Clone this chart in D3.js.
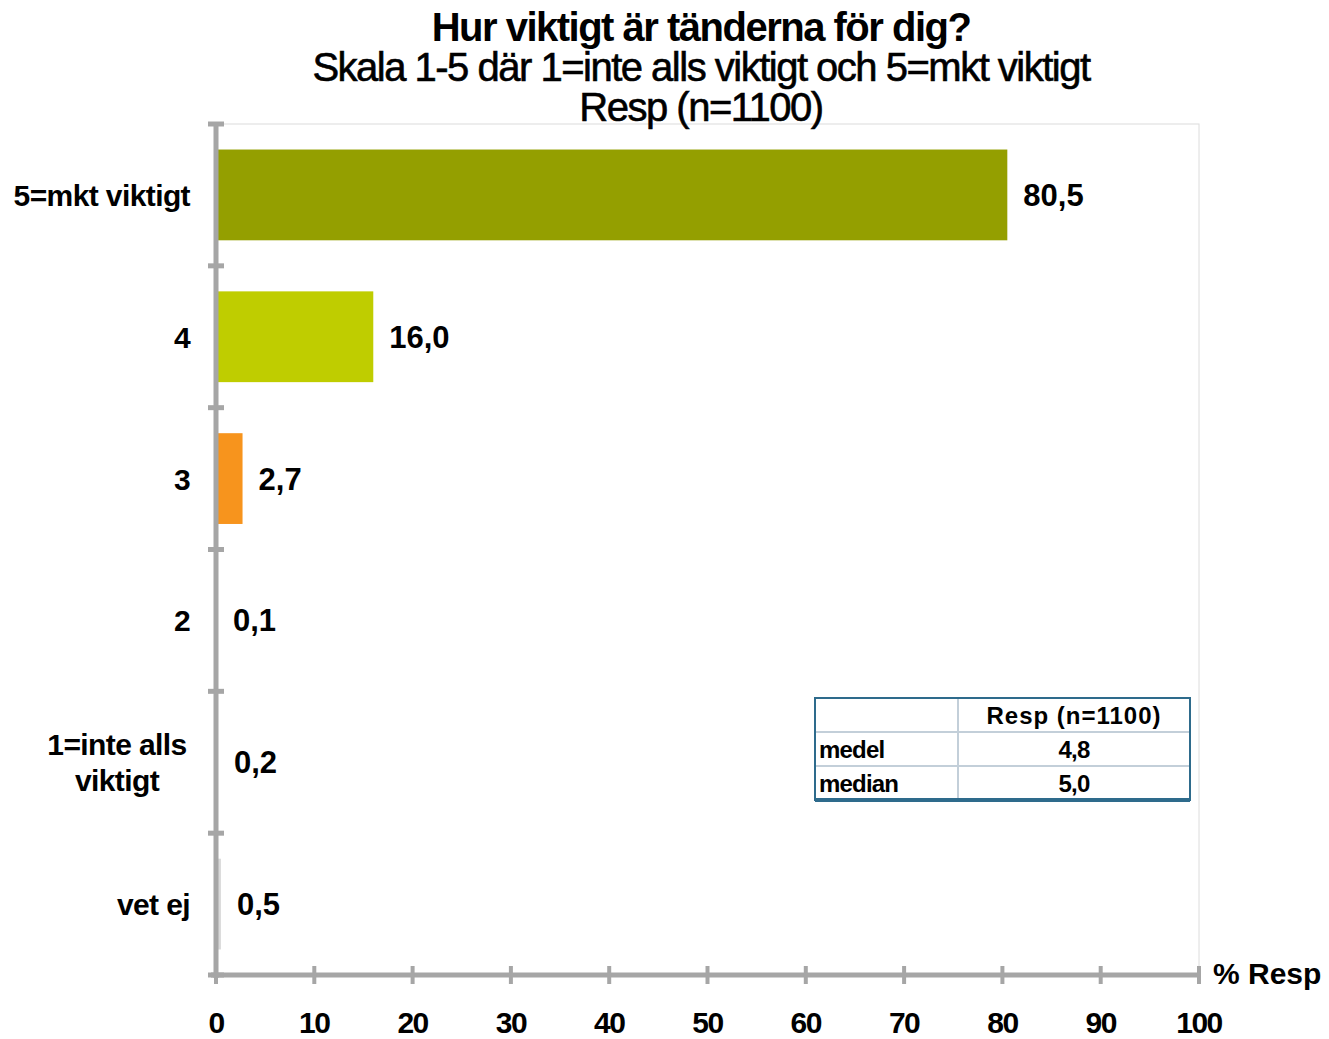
<!DOCTYPE html>
<html>
<head>
<meta charset="utf-8">
<script src="https://cdn.jsdelivr.net/npm/d3@7"></script>
<style>
  body { margin: 0; background: #fff; }
  text { font-family: "Liberation Sans", Arial, sans-serif; fill: #000; }
</style>
</head>
<body>
<script>
// data
var categories = ["5=mkt viktigt", "4", "3", "2", "1=inte alls viktigt", "vet ej"];
var values = [80.5, 16.0, 2.7, 0.1, 0.2, 0.5];
var barColors = ["#949f00", "#bfcd00", "#f7941d", "#e2231a", "#a3161a", "#d9d9d9"];
var xTicks = [0, 10, 20, 30, 40, 50, 60, 70, 80, 90, 100];
var titleLines = ["Hur viktigt är tänderna för dig?", "Skala 1-5 där 1=inte alls viktigt och 5=mkt viktigt", "Resp (n=1100)"];
var tableHeader = ["", "Resp (n=1100)"];
var tableRows = [["medel", "4,8"], ["median", "5,0"]];

var width = 1329, height = 1039;
var plotLeft = 216, plotRight = 1199, plotTop = 124, plotBottom = 975;
var axisColor = "#a6a6a6";

var svg = d3.select("body").append("svg")
  .attr("width", width)
  .attr("height", height);

var x = d3.scaleLinear().domain([0, 100]).range([plotLeft, plotRight]);
var y = d3.scaleBand().domain(categories).range([plotTop, plotBottom]).paddingInner(0.36).paddingOuter(0.18);

var fmt = function(v) { return d3.format(".1f")(v).replace(".", ","); };

// plot area border
svg.append("rect")
  .attr("x", plotLeft).attr("y", plotTop)
  .attr("width", plotRight - plotLeft).attr("height", plotBottom - plotTop)
  .style("fill", "none").style("stroke", "#dcdcdc").style("stroke-width", 1);

// title
svg.selectAll("text.title")
  .data(titleLines)
  .enter().append("text")
  .attr("class", "title")
  .attr("x", 701)
  .attr("y", function(d, i) { return 41 + i * 40; })
  .attr("text-anchor", "middle")
  .style("font-size", "40px")
  .style("font-weight", function(d, i) { return i == 0 ? "bold" : "normal"; })
  .style("stroke", "#000")
  .style("stroke-width", function(d, i) { return i == 0 ? 0 : 0.6; })
  .style("letter-spacing", "-1.5px")
  .text(function(d) { return d; });

// bars
svg.selectAll("rect.bar")
  .data(values)
  .enter().append("rect")
  .attr("class", "bar")
  .attr("x", x(0))
  .attr("y", function(d, i) { return y(categories[i]); })
  .attr("width", function(d) { return x(d) - x(0); })
  .attr("height", y.bandwidth())
  .style("fill", function(d, i) { return barColors[i]; });

// value labels
svg.selectAll("text.val")
  .data(values)
  .enter().append("text")
  .attr("class", "val")
  .attr("x", function(d) { return x(d) + 16; })
  .attr("y", function(d, i) { return y(categories[i]) + y.bandwidth() / 2 + 11; })
  .style("font-size", "31px")
  .style("font-weight", "bold")
  .style("letter-spacing", "0px")
  .text(function(d) { return fmt(d); });

// y axis
var yAxisG = svg.append("g");
yAxisG.append("line")
  .attr("x1", plotLeft).attr("x2", plotLeft)
  .attr("y1", plotTop).attr("y2", plotBottom + 3)
  .style("stroke", axisColor).style("stroke-width", 5);
var yTickPos = d3.range(categories.length + 1).map(function(i) { return plotTop + i * (plotBottom - plotTop) / categories.length; });
yAxisG.selectAll("line.yt")
  .data(yTickPos)
  .enter().append("line")
  .attr("class", "yt")
  .attr("x1", plotLeft - 8).attr("x2", plotLeft + 8)
  .attr("y1", function(d) { return d; }).attr("y2", function(d) { return d; })
  .style("stroke", axisColor).style("stroke-width", 5);

// category labels
svg.selectAll("text.cat")
  .data(categories)
  .enter().append("text")
  .attr("class", "cat")
  .attr("text-anchor", "middle")
  .style("font-size", "30px")
  .style("font-weight", "bold")
  .style("letter-spacing", "-0.6px")
  .each(function(d) {
    var t = d3.select(this);
    var cy = y(d) + y.bandwidth() / 2;
    if (d == "1=inte alls viktigt") {
      t.attr("x", 117);
      t.append("tspan").attr("x", 117).attr("y", cy - 7).text("1=inte alls");
      t.append("tspan").attr("x", 117).attr("y", cy + 29).text("viktigt");
    } else {
      t.attr("text-anchor", "end").attr("x", 190).attr("y", cy + 11).text(d);
    }
  });

// x axis
var xAxisG = svg.append("g");
xAxisG.append("line")
  .attr("x1", plotLeft - 5).attr("x2", plotRight + 2)
  .attr("y1", plotBottom).attr("y2", plotBottom)
  .style("stroke", axisColor).style("stroke-width", 5);
xAxisG.selectAll("line.xt")
  .data(xTicks)
  .enter().append("line")
  .attr("class", "xt")
  .attr("x1", function(d) { return x(d); }).attr("x2", function(d) { return x(d); })
  .attr("y1", plotBottom - 9).attr("y2", plotBottom + 9)
  .style("stroke", axisColor).style("stroke-width", 4);
xAxisG.selectAll("text.xl")
  .data(xTicks)
  .enter().append("text")
  .attr("class", "xl")
  .attr("x", function(d) { return x(d); })
  .attr("y", 1033)
  .attr("text-anchor", "middle")
  .style("font-size", "30px")
  .style("font-weight", "bold")
  .style("letter-spacing", "-1.5px")
  .text(function(d) { return d; });

svg.append("text")
  .attr("x", 1213).attr("y", 984)
  .style("font-size", "30px")
  .style("font-weight", "bold")
  .style("letter-spacing", "0px")
  .text("% Resp");

// stats table
var tx = 815, ty = 698, colW = [143, 232], rowH = 34;
var tbl = svg.append("g");
var allRows = [tableHeader].concat(tableRows);
allRows.forEach(function(row, r) {
  row.forEach(function(cell, c) {
    var cx = tx + (c == 0 ? 0 : colW[0]);
    tbl.append("rect")
      .attr("x", cx).attr("y", ty + r * rowH)
      .attr("width", colW[c]).attr("height", rowH)
      .style("fill", "#fff").style("stroke", "#c3cfd9").style("stroke-width", 2);
    tbl.append("text")
      .attr("x", c == 0 ? cx + 4 : cx + colW[c] / 2)
      .attr("y", ty + r * rowH + 26)
      .attr("text-anchor", c == 0 ? "start" : "middle")
      .style("font-size", "24px")
      .style("font-weight", "bold")
      .style("letter-spacing", r == 0 ? "1px" : "-0.8px")
      .text(cell);
  });
});
tbl.append("rect")
  .attr("x", tx).attr("y", ty)
  .attr("width", colW[0] + colW[1]).attr("height", rowH * allRows.length)
  .style("fill", "none").style("stroke", "#2e6b8c").style("stroke-width", 2);
tbl.append("line")
  .attr("x1", tx).attr("x2", tx + colW[0] + colW[1])
  .attr("y1", ty + rowH * allRows.length).attr("y2", ty + rowH * allRows.length)
  .style("stroke", "#2e6b8c").style("stroke-width", 4);
</script>
</body>
</html>
